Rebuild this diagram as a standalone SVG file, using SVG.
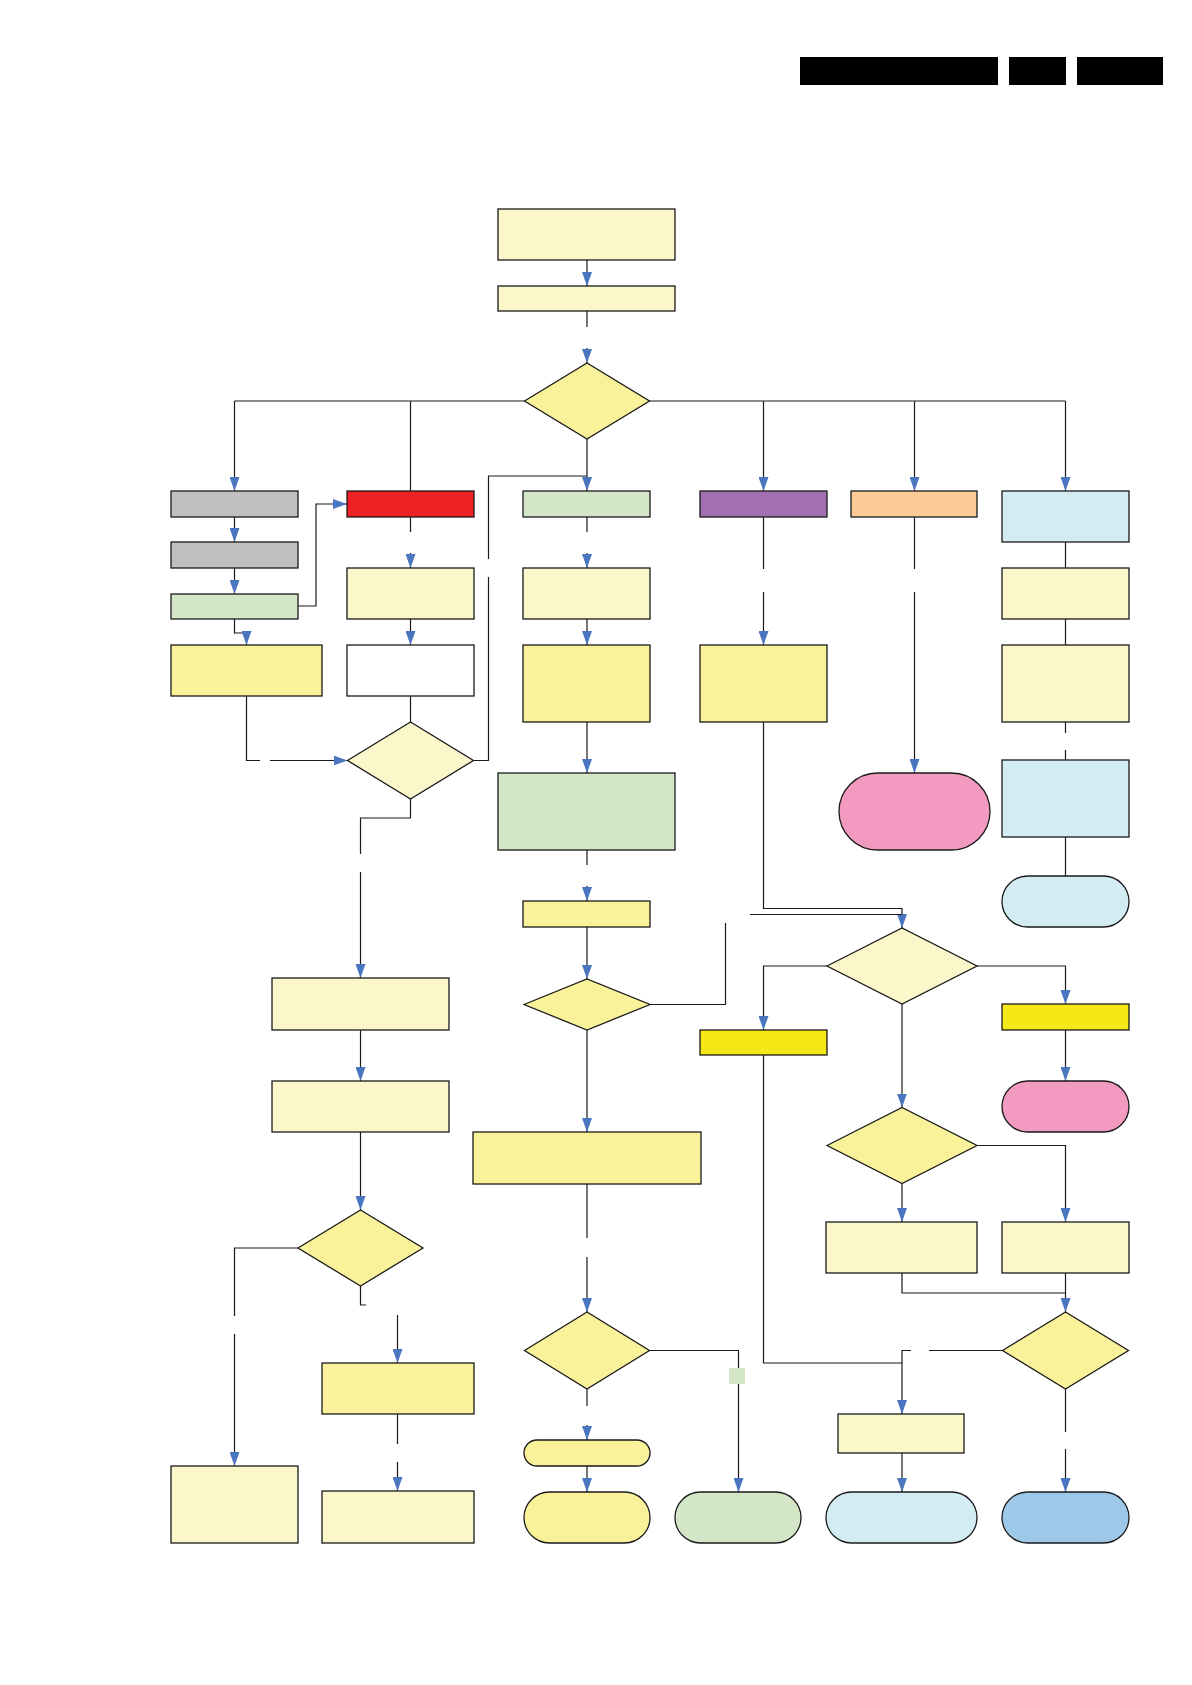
<svg xmlns="http://www.w3.org/2000/svg" width="1192" height="1685" viewBox="0 0 1192 1685">
<defs>
<style>
.n{stroke:#1a1a1a;stroke-width:1.3}
.lt{fill:#FBF7CB}
.sy{fill:#F9F29B}
.by{fill:#F5E816}
.gr{fill:#C0C0C0}
.rd{fill:#EE2124}
.gn{fill:#D3E7C8}
.pu{fill:#A36FB0}
.or{fill:#FCCB96}
.lb{fill:#D3EBF3}
.pk{fill:#F29AC0}
.db{fill:#9DC8E8}
.wh{fill:#FFFFFF}
.c path{fill:none;stroke:#1a1a1a;stroke-width:1.2}
.c path.a{marker-end:url(#ar)}
</style>
<marker id="ar" viewBox="0 0 14 10" refX="14" refY="5" markerWidth="14" markerHeight="10" markerUnits="userSpaceOnUse" orient="auto">
<path d="M0,0 L14,5 L0,10 z" fill="#4A76C0"/>
</marker>
</defs>
<rect width="1192" height="1685" fill="#FFFFFF"/>
<g id="header">
<rect x="800" y="57" width="198" height="28" fill="#000"/>
<rect x="1009" y="57" width="57" height="28" fill="#000"/>
<rect x="1077" y="57" width="86" height="28" fill="#000"/>
</g>
<g class="c" id="connectors">
<path class="a" d="M587,260V286"/>
<path d="M587,311V327"/>
<path class="a" d="M587,348V363"/>
<path d="M234.5,401H524.5M649.5,401H1065.5"/>
<path class="a" d="M234.5,401V491"/>
<path d="M410.5,401V491"/>
<path class="a" d="M587,439V491"/>
<path class="a" d="M763.5,401V491"/>
<path class="a" d="M914.5,401V491"/>
<path class="a" d="M1065.5,401V491"/>
<path class="a" d="M234.5,517V542"/>
<path class="a" d="M234.5,568V594"/>
<path class="a" d="M298,606H316V504H347"/>
<path class="a" d="M234.5,619V633H246.5V645"/>
<path d="M246.5,696V760.5H260"/>
<path class="a" d="M270,760.5H347.5"/>
<path d="M410.5,517V532"/>
<path class="a" d="M410.5,553V568"/>
<path class="a" d="M410.5,619V645"/>
<path d="M410.5,696V722"/>
<path d="M473.5,760.5H488.5V577"/>
<path d="M488.5,559V476H587"/>
<path d="M410.5,799V818H360.5V854"/>
<path class="a" d="M360.5,872V978"/>
<path d="M587,517V532"/>
<path class="a" d="M587,553V568"/>
<path class="a" d="M587,619V645"/>
<path class="a" d="M587,722V773"/>
<path d="M587,850V865"/>
<path class="a" d="M587,886V901"/>
<path class="a" d="M587,927V979"/>
<path d="M650,1004.5H725.5V923"/>
<path class="a" d="M587,1030V1132"/>
<path d="M587,1184V1238"/>
<path class="a" d="M587,1257V1312"/>
<path d="M587,1389V1406"/>
<path class="a" d="M587,1425V1440"/>
<path class="a" d="M587,1466V1492"/>
<path class="a" d="M649.5,1350.5H738.5V1492"/>
<path d="M763.5,517V569"/>
<path class="a" d="M763.5,592V645"/>
<path class="a" d="M763.5,722V908.5H902V928"/>
<path d="M750,914.5H902"/>
<path d="M914.5,517V569"/>
<path class="a" d="M914.5,592V773"/>
<path d="M1065.5,542V568M1065.5,619V645M1065.5,722V733M1065.5,750V760M1065.5,837V876"/>
<path class="a" d="M827,966H763.5V1030"/>
<path class="a" d="M977,966H1065.5V1004"/>
<path class="a" d="M1065.5,1030V1081"/>
<path class="a" d="M902,1004V1107.5"/>
<path class="a" d="M977,1145.5H1065.5V1222"/>
<path class="a" d="M902,1183.5V1222"/>
<path d="M902,1273V1293H1065.5"/>
<path class="a" d="M1065.5,1273V1312"/>
<path class="a" d="M763.5,1055V1363H902V1414"/>
<path d="M1002.5,1350.5H929M911,1350.5H902V1363"/>
<path class="a" d="M902,1453V1492"/>
<path d="M1065.5,1389V1432"/>
<path class="a" d="M1065.5,1449V1492"/>
<path class="a" d="M360.5,1030V1081"/>
<path class="a" d="M360.5,1132V1210"/>
<path d="M298,1248H234.5V1316"/>
<path class="a" d="M234.5,1334V1466"/>
<path d="M360.5,1286V1305H366"/>
<path class="a" d="M397.5,1315V1363"/>
<path d="M397.5,1414V1444"/>
<path class="a" d="M397.5,1462V1491"/>
</g>
<g id="n1"><rect class="n lt" x="498" y="209" width="177" height="51"/></g>
<g id="n2"><rect class="n lt" x="498" y="286" width="177" height="25"/></g>
<g id="d1"><polygon class="n sy" points="524.5,401 587,363 649.5,401 587,439"/></g>
<g id="g1"><rect class="n gr" x="171" y="491" width="127" height="26"/></g>
<g id="r1"><rect class="n rd" x="347" y="491" width="127" height="26"/></g>
<g id="c1"><rect class="n gn" x="523" y="491" width="127" height="26"/></g>
<g id="p1"><rect class="n pu" x="700" y="491" width="127" height="26"/></g>
<g id="o1"><rect class="n or" x="851" y="491" width="126" height="26"/></g>
<g id="b1"><rect class="n lb" x="1002" y="491" width="127" height="51"/></g>
<g id="g2"><rect class="n gr" x="171" y="542" width="127" height="26"/></g>
<g id="g3"><rect class="n gn" x="171" y="594" width="127" height="25"/></g>
<g id="r2"><rect class="n lt" x="347" y="568" width="127" height="51"/></g>
<g id="c2"><rect class="n lt" x="523" y="568" width="127" height="51"/></g>
<g id="b2"><rect class="n lt" x="1002" y="568" width="127" height="51"/></g>
<g id="y1"><rect class="n sy" x="171" y="645" width="151" height="51"/></g>
<g id="r3"><rect class="n wh" x="347" y="645" width="127" height="51"/></g>
<g id="c3"><rect class="n sy" x="523" y="645" width="127" height="77"/></g>
<g id="p2"><rect class="n sy" x="700" y="645" width="127" height="77"/></g>
<g id="b3"><rect class="n lt" x="1002" y="645" width="127" height="77"/></g>
<g id="d2"><polygon class="n lt" points="347.5,760.5 410.5,722 473.5,760.5 410.5,799"/></g>
<g id="c4"><rect class="n gn" x="498" y="773" width="177" height="77"/></g>
<g id="t1"><rect class="n pk" x="839" y="773" width="151" height="77" rx="38.5"/></g>
<g id="b4"><rect class="n lb" x="1002" y="760" width="127" height="77"/></g>
<g id="t2"><rect class="n lb" x="1002" y="876" width="127" height="51" rx="25.5"/></g>
<g id="c5"><rect class="n sy" x="523" y="901" width="127" height="26"/></g>
<g id="d3"><polygon class="n lt" points="827,966 902,928 977,966 902,1004"/></g>
<g id="l1"><rect class="n lt" x="272" y="978" width="177" height="52"/></g>
<g id="d4"><polygon class="n sy" points="524,1004.5 587,979 650,1004.5 587,1030"/></g>
<g id="y2"><rect class="n by" x="1002" y="1004" width="127" height="26"/></g>
<g id="y3"><rect class="n by" x="700" y="1030" width="127" height="25"/></g>
<g id="l2"><rect class="n lt" x="272" y="1081" width="177" height="51"/></g>
<g id="t3"><rect class="n pk" x="1002" y="1081" width="127" height="51" rx="25.5"/></g>
<g id="d5"><polygon class="n sy" points="827,1145.5 902,1107.5 977,1145.5 902,1183.5"/></g>
<g id="c6"><rect class="n sy" x="473" y="1132" width="228" height="52"/></g>
<g id="d6"><polygon class="n sy" points="298,1248 360.5,1210 423,1248 360.5,1286"/></g>
<g id="e1"><rect class="n lt" x="826" y="1222" width="151" height="51"/></g>
<g id="e2"><rect class="n lt" x="1002" y="1222" width="127" height="51"/></g>
<g id="d7"><polygon class="n sy" points="524.5,1350.5 587,1312 649.5,1350.5 587,1389"/></g>
<g id="d8"><polygon class="n sy" points="1002.5,1350.5 1065.5,1312 1128.5,1350.5 1065.5,1389"/></g>
<g id="s1"><rect class="n sy" x="322" y="1363" width="152" height="51"/></g>
<g id="e3"><rect class="n lt" x="838" y="1414" width="126" height="39"/></g>
<g id="t4"><rect class="n sy" x="524" y="1440" width="126" height="26" rx="13"/></g>
<g id="l3"><rect class="n lt" x="171" y="1466" width="127" height="77"/></g>
<g id="l4"><rect class="n lt" x="322" y="1491" width="152" height="52"/></g>
<g id="t5"><rect class="n sy" x="524" y="1492" width="126" height="51" rx="25.5"/></g>
<g id="t6"><rect class="n gn" x="675" y="1492" width="126" height="51" rx="25.5"/></g>
<g id="t7"><rect class="n lb" x="826" y="1492" width="151" height="51" rx="25.5"/></g>
<g id="t8"><rect class="n db" x="1002" y="1492" width="127" height="51" rx="25.5"/></g>
<g id="sq"><rect x="729" y="1368" width="16" height="16" fill="#D3E7C8"/></g>
</svg>
